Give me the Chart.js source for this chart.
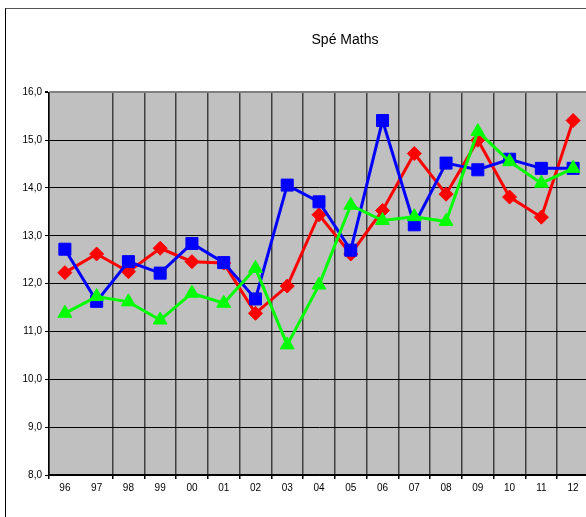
<!DOCTYPE html>
<html>
<head>
<meta charset="utf-8">
<script src="https://cdn.jsdelivr.net/npm/chart.js@4/dist/chart.umd.min.js"></script>
<style>
  html, body { margin: 0; padding: 0; background: #fff; overflow: hidden; width: 586px; height: 517px; }
  #frame { position: absolute; left: 5px; top: 8px; width: 700px; height: 600px; border-left: 1px solid #000; border-top: 1px solid #555; }
  #wrap { position: absolute; left: 0; top: 0; width: 600px; height: 517px; }
  #title { position: absolute; left: 0; width: 690px; top: 31px; text-align: center; font: 14px "Liberation Sans", Arial, sans-serif; color: #000; line-height: 17px; }
</style>
</head>
<body>
<div id="frame"></div>
<div id="wrap"><canvas id="c"></canvas></div>
<div id="title"></div>
<script>
const categories = ['96','97','98','99','00','01','02','03','04','05','06','07','08','09','10','11','12'];
const blueSeries  = [12.72, 11.63, 12.46, 12.22, 12.84, 12.44, 11.68, 14.06, 13.71, 12.70, 15.41, 13.23, 14.52, 14.38, 14.60, 14.41, 14.41];
const redSeries   = [12.23, 12.62, 12.25, 12.74, 12.46, 12.43, 11.38, 11.95, 13.44, 12.62, 13.53, 14.72, 13.87, 15.00, 13.81, 13.39, 15.41];
const greenSeries = [11.38, 11.73, 11.62, 11.24, 11.80, 11.59, 12.32, 10.72, 11.97, 13.64, 13.32, 13.40, 13.30, 15.18, 14.55, 14.10, 14.41];
const yMin = 8, yMax = 16, yStep = 1;
const titleText = 'Spé Maths';

document.getElementById('title').textContent = titleText;

const plotBg = {
  id: 'plotBg',
  beforeDraw(chart) {
    const a = chart.chartArea, ctx = chart.ctx;
    ctx.save();
    ctx.fillStyle = '#C0C0C0';
    ctx.fillRect(a.left, a.top, a.right - a.left, a.bottom - a.top);
    ctx.restore();
  }
};

new Chart(document.getElementById('c'), {
  type: 'line',
  data: {
    labels: categories,
    datasets: [
      { data: greenSeries, borderColor: '#00FF00', backgroundColor: '#00FF00', borderWidth: 3,
        pointStyle: 'triangle', pointRadius: 8, pointBorderWidth: 1, pointHoverRadius: 8, tension: 0 },
      { data: blueSeries, borderColor: '#0000FF', backgroundColor: '#0000FF', borderWidth: 3,
        pointStyle: 'rect', pointRadius: 8.5, pointBorderWidth: 1, pointHoverRadius: 8.5, tension: 0 },
      { data: redSeries, borderColor: '#FF0000', backgroundColor: '#FF0000', borderWidth: 3,
        pointStyle: 'rectRot', pointRadius: 7, pointBorderWidth: 1, pointHoverRadius: 7, tension: 0 }
    ]
  },
  options: {
    responsive: true,
    maintainAspectRatio: false,
    animation: false,
    devicePixelRatio: 1,
    layout: { padding: { left: 0, right: 11, top: 92.3, bottom: 0 } },
    plugins: {
      legend: { display: false },
      tooltip: { enabled: false },
      title: { display: false }
    },
    scales: {
      x: {
        type: 'category',
        offset: true,
        afterFit(s) { s.height = 42; },
        border: { display: true, color: '#000', width: 1.5 },
        grid: {
          offset: true,
          drawOnChartArea: true,
          tickLength: 4,
          lineWidth: 1.5,
          color: (c) => c.index === 1 ? 'rgba(0,0,0,0)' : '#404040',
          tickColor: (c) => c.index === 1 ? 'rgba(0,0,0,0)' : '#000'
        },
        ticks: {
          color: '#000', padding: 3, maxRotation: 0, autoSkip: false,
          font: { family: 'Liberation Sans, Arial, sans-serif', size: 10 }
        }
      },
      y: {
        min: yMin, max: yMax,
        afterFit(s) { s.width = 49; },
        border: { display: true, color: '#000', width: 1.5 },
        grid: {
          tickLength: 4,
          color: (c) => c.tick && c.tick.value === yMax ? '#808080' : '#000',
          lineWidth: (c) => c.tick && c.tick.value === yMax ? 2 : 1,
          tickColor: '#000'
        },
        ticks: {
          stepSize: yStep, color: '#000', padding: 3,
          font: { family: 'Liberation Sans, Arial, sans-serif', size: 10 },
          callback: (v) => v.toFixed(1).replace('.', ',')
        }
      }
    }
  },
  plugins: [plotBg]
});
</script>
</body>
</html>
